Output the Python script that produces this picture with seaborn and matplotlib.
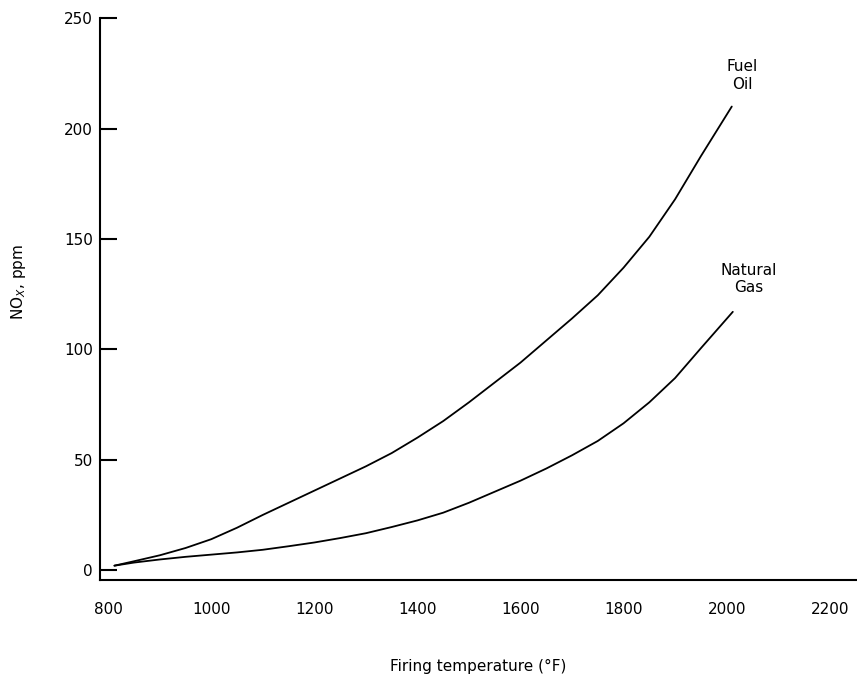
import matplotlib
matplotlib.use("Agg")
import matplotlib.pyplot as plt
import seaborn as sns
import pandas as pd

# values
temp_oil = [812, 850, 900, 950, 1000, 1050, 1100, 1150, 1200, 1250, 1300, 1350, 1400,
            1450, 1500, 1550, 1600, 1650, 1700, 1750, 1800, 1850, 1900, 1950, 2010]
nox_oil = [2, 4, 6.7, 10, 14, 19.2, 25, 30.5, 36, 41.5, 47, 53, 60,
           67.5, 76, 85, 94, 104, 114, 124.5, 137, 151, 168, 187.5, 210]

temp_gas = [812, 850, 900, 950, 1000, 1050, 1100, 1150, 1200, 1250, 1300, 1350, 1400,
            1450, 1500, 1550, 1600, 1650, 1700, 1750, 1800, 1850, 1900, 1950, 2012]
nox_gas = [2, 3.4, 4.8, 6, 7, 8, 9.2, 10.8, 12.5, 14.5, 16.7, 19.5, 22.5,
           26, 30.5, 35.5, 40.5, 46, 52, 58.5, 66.5, 76, 87, 100.5, 117]

x_ticks = [800, 1000, 1200, 1400, 1600, 1800, 2000, 2200]
y_ticks = [0, 50, 100, 150, 200, 250]

df = pd.concat([
    pd.DataFrame({"T": temp_oil, "NOx": nox_oil, "Fuel": "Fuel Oil"}),
    pd.DataFrame({"T": temp_gas, "NOx": nox_gas, "Fuel": "Natural Gas"}),
])

sns.set_style("white")
plt.rcParams["font.family"] = ["DejaVu Sans"]
plt.rcParams["text.color"] = "black"

fig = plt.figure(figsize=(8.57, 6.76), dpi=100)
ax = fig.add_axes([0.1167, 0.142, 0.8833, 0.831])

sns.lineplot(data=df, x="T", y="NOx", units="Fuel", estimator=None,
             color="black", linewidth=1.3, ax=ax, legend=False)

ax.set_xlim(784, 2253)
ax.set_ylim(-4.5, 250)
ax.set_xticks(x_ticks)
ax.set_yticks(y_ticks)
ax.tick_params(axis="x", bottom=False, length=0, pad=16, labelsize=11, labelcolor="black")
ax.tick_params(axis="y", left=True, direction="in", length=12, width=1.5, pad=5,
               labelsize=11, labelcolor="black", color="black")

sns.despine(ax=ax)
for s in ["left", "bottom"]:
    ax.spines[s].set_linewidth(1.5)
    ax.spines[s].set_color("black")

ax.set_xlabel("Firing temperature (°F)", fontsize=11, color="black")
ax.xaxis.set_label_coords(0.5, -0.14)
ax.set_ylabel("NO$_X$, ppm", fontsize=11, color="black")
ax.yaxis.set_label_coords(-0.095, 0.53)

ax.text(2030, 224, "Fuel\nOil", ha="center", va="center", fontsize=11, linespacing=1.2)
ax.text(2043, 132, "Natural\nGas", ha="center", va="center", fontsize=11, linespacing=1.2)

fig.savefig("out.png", dpi=100)
